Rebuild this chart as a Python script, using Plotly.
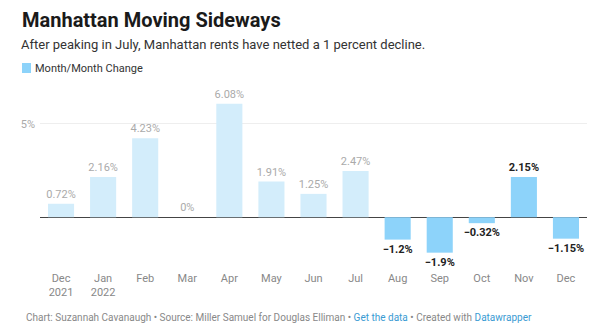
import plotly.graph_objects as go

months = ["Dec 2021", "Jan 2022", "Feb", "Mar", "Apr", "May", "Jun", "Jul",
          "Aug", "Sep", "Oct", "Nov", "Dec"]
tick_labels = ["Dec<br>2021", "Jan<br>2022", "Feb", "Mar", "Apr", "May", "Jun", "Jul",
               "Aug", "Sep", "Oct", "Nov", "Dec"]
values = [0.72, 2.16, 4.23, 0, 6.08, 1.91, 1.25, 2.47, -1.2, -1.9, -0.32, 2.15, -1.15]
highlight_start = 8  # Aug onwards highlighted

W, H = 600, 330
ML, MR, MT, MB = 40, 13, 94, 68
PW, PH = W - ML - MR, H - MT - MB


def px(x):
    return (x - ML) / PW


def py(y):
    return 1 - (y - MT) / PH


def fmt(v):
    return f"{v:g}%".replace("-", "\u2212")


labels = [fmt(v) for v in values]
LIGHT = "#d3edfb"
DARK = "#8dd3fa"

fig = go.Figure()
fig.add_trace(go.Bar(
    x=months[:highlight_start], y=values[:highlight_start],
    text=labels[:highlight_start], textposition="outside", cliponaxis=False,
    marker=dict(color=LIGHT, line=dict(width=0)),
    textfont=dict(family="Roboto", size=11, color="#aaaaaa"),
    showlegend=False, hoverinfo="skip",
))
fig.add_trace(go.Bar(
    x=months[highlight_start:], y=values[highlight_start:],
    text=labels[highlight_start:], textposition="outside", cliponaxis=False,
    marker=dict(color=DARK, line=dict(width=0)),
    textfont=dict(family="Roboto", size=11, color="#222222", weight="bold"),
    showlegend=False, hoverinfo="skip",
))

fig.update_layout(
    width=W, height=H,
    margin=dict(l=ML, r=MR, t=MT, b=MB, pad=0),
    paper_bgcolor="white", plot_bgcolor="white",
    barmode="relative", bargap=0.38,
    font=dict(family="Roboto", color="#333"),
    uniformtext=dict(mode="show", minsize=11),
    title=dict(
        text="<b>Manhattan Moving Sideways</b>",
        x=22 / W, xanchor="left", xref="container",
        y=1 - 20 / H, yanchor="middle", yref="container",
        font=dict(family="Roboto", size=20, color="#1a1a1a"),
    ),
    xaxis=dict(
        type="category", categoryorder="array", categoryarray=months,
        tickmode="array", tickvals=months, ticktext=tick_labels,
        showgrid=False, zeroline=False, showline=False, ticks="",
        tickfont=dict(family="Roboto", size=11, color="#888888"),
        ticklabelstandoff=8,
    ),
    yaxis=dict(
        range=[-2.4, 6.6], tickmode="array", tickvals=[5], ticktext=["5%"],
        showgrid=True, gridcolor="#eeeeee", gridwidth=1,
        zeroline=True, zerolinecolor="#444444", zerolinewidth=1,
        showline=False, ticks="",
        tickfont=dict(family="Roboto", size=11, color="#aaaaaa"),
        ticklabelstandoff=4,
    ),
    annotations=[
        dict(text="After peaking in July, Manhattan rents have netted a 1 percent decline.",
             xref="paper", yref="paper", x=px(19), y=py(45), xanchor="left", yanchor="middle",
             showarrow=False, font=dict(family="Roboto", size=13, color="#333333")),
        dict(text="Month/Month Change",
             xref="paper", yref="paper", x=px(33), y=py(68), xanchor="left", yanchor="middle",
             showarrow=False, font=dict(family="Roboto", size=11, color="#333333")),
        dict(text="Chart: Suzannah Cavanaugh \u2022 Source: Miller Samuel for Douglas Elliman \u2022 "
                  "<span style='color:#3a9bd3'>Get the data</span> \u2022 Created with "
                  "<span style='color:#3a9bd3'>Datawrapper</span>",
             xref="paper", yref="paper", x=px(24), y=py(317), xanchor="left", yanchor="middle",
             showarrow=False, font=dict(family="Roboto", size=10, color="#888888")),
    ],
    shapes=[
        dict(type="rect", xref="paper", yref="paper",
             x0=px(22), x1=px(31), y0=py(63), y1=py(73),
             fillcolor=DARK, line=dict(width=0)),
    ],
)

fig.write_html("out.html")
